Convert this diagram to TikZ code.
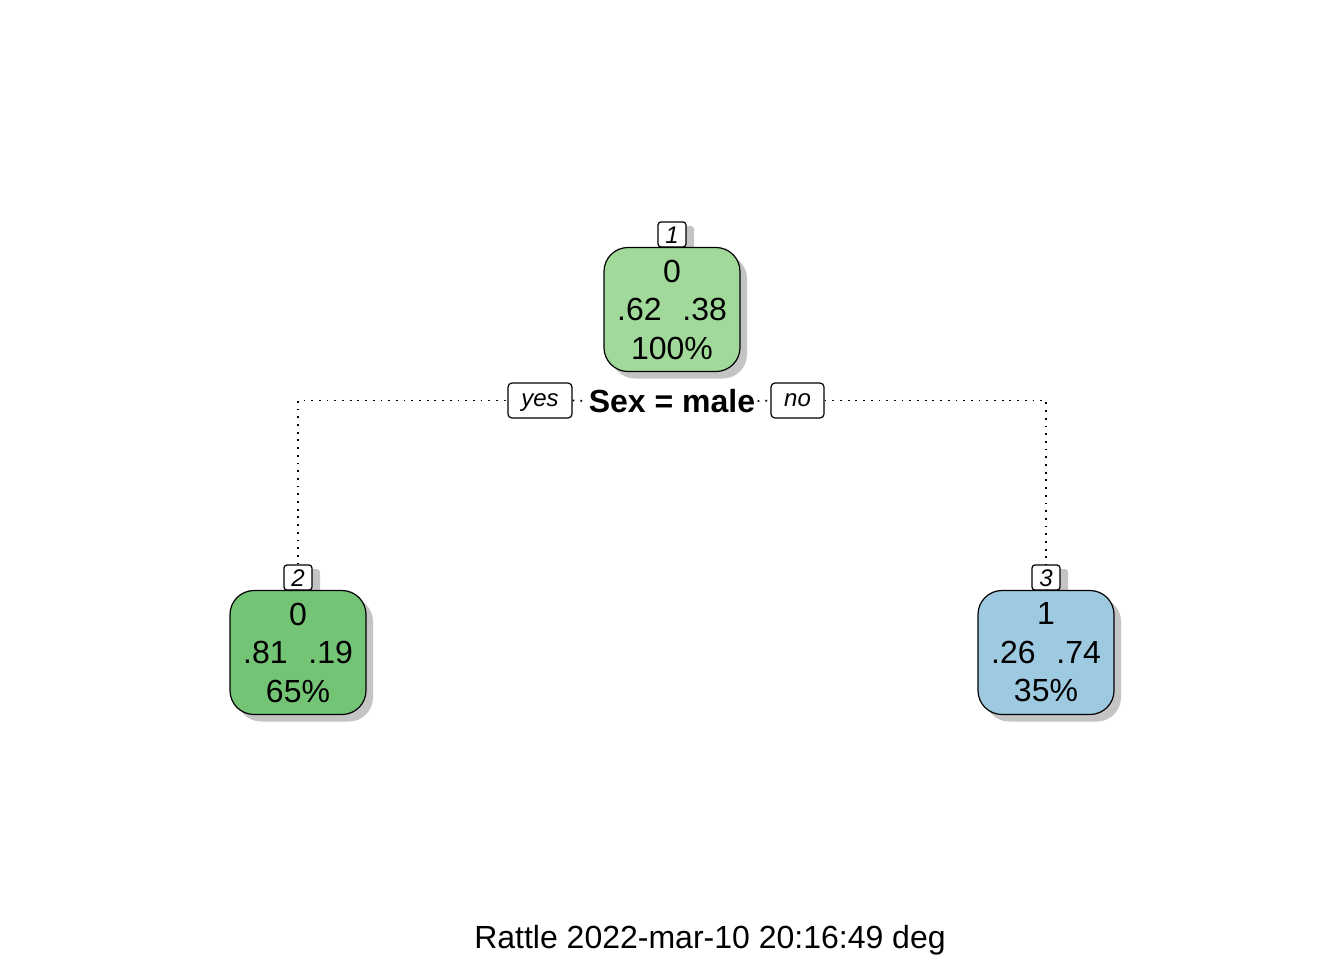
\documentclass[tikz,border=0pt]{standalone}
\usepackage{fontspec}
\setmainfont{Liberation Sans}
\usetikzlibrary{shadows}
\definecolor{gA}{HTML}{A1D99B}
\definecolor{gB}{HTML}{74C476}
\definecolor{bA}{HTML}{9ECAE1}
\definecolor{shad}{HTML}{C4C4C4}
\begin{document}
\begin{tikzpicture}[x=0.5pt,y=-0.5pt,
 treebox/.style={draw=black, line width=0.6pt, rounded corners=12pt, minimum width=68pt, minimum height=62pt, inner sep=0pt, align=center, font=\fontsize{16}{19.25}\selectfont, drop shadow={shadow xshift=3.5pt, shadow yshift=-3.5pt, fill=shad, opacity=1}},
 numbox/.style={draw=black, fill=white, line width=0.6pt, rounded corners=1.5pt, minimum width=14pt, minimum height=12.5pt, inner sep=0pt, text height=8.6pt, text depth=0pt, font=\fontsize{12}{14}\selectfont\itshape, drop shadow={shadow xshift=4pt, shadow yshift=-2pt, fill=shad, opacity=1}},
 tagbox/.style={draw=black, fill=white, line width=0.6pt, rounded corners=2pt, minimum height=17.5pt, inner sep=0pt, text height=8pt, text depth=1.8pt, font=\fontsize{12}{14}\selectfont\itshape},
 splittext/.style={inner sep=1pt, font=\fontsize{16}{19}\selectfont\bfseries},
 dotlink/.style={line width=0.9pt, dash pattern=on 0.9pt off 2.95pt}]
\useasboundingbox (0,0) rectangle (1344,960);
% number labels (drawn first)
\node[numbox] (l1) at (672,234.5) {1};
\node[numbox] (l2) at (298,577.5) {2};
\node[numbox] (l3) at (1046,577.5) {3};
% tree boxes
\node[treebox, fill=gA] (n1) at (672,309.5) {0\\.62\hspace{0.65em}.38\\100\%};
\node[treebox, fill=gB] (n2) at (298,652.5) {0\\.81\hspace{0.65em}.19\\65\%};
\node[treebox, fill=bA] (n3) at (1046,652.5) {1\\.26\hspace{0.65em}.74\\35\%};
% split
\node[tagbox, minimum width=32pt] (yes) at (540,400.5) {yes};
\node[splittext] (split) at (672,401) {Sex = male};
\node[tagbox, minimum width=26.5pt] (no) at (797.5,400.5) {no};
\draw[dotlink] (l2.north) |- (yes.west);
\draw[dotlink] (yes.east) -- (split.west);
\draw[dotlink] (split.east) -- (no.west);
\draw[dotlink] (no.east) -| (l3.north);
% caption
\node[font=\fontsize{16}{19}\selectfont, anchor=base, inner sep=0pt] (cap) at (710,948) {Rattle 2022-mar-10 20:16:49 deg};
\end{tikzpicture}
\end{document}
